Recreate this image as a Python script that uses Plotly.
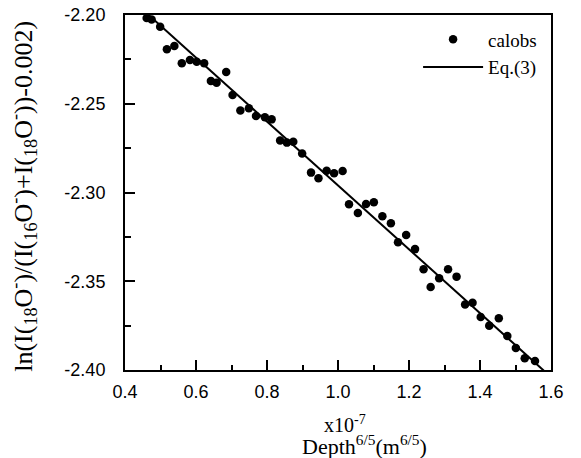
import plotly.graph_objects as go

# measured points (depth^6/5 in units of 1e-7 m^6/5)
depth = [0.461, 0.475, 0.499, 0.518, 0.539, 0.560, 0.583, 0.602, 0.623, 0.642,
         0.658, 0.685, 0.703, 0.725, 0.749, 0.769, 0.794, 0.813, 0.837, 0.856,
         0.874, 0.899, 0.924, 0.945, 0.968, 0.989, 1.013, 1.031, 1.056, 1.079,
         1.101, 1.125, 1.149, 1.169, 1.192, 1.217, 1.241, 1.261, 1.285, 1.310,
         1.334, 1.358, 1.379, 1.402, 1.426, 1.453, 1.477, 1.501, 1.526, 1.555]
ln_ratio = [-2.2017, -2.2025, -2.2066, -2.2193, -2.2175, -2.2272, -2.2254, -2.2263, -2.2272, -2.2372,
            -2.2381, -2.2321, -2.2451, -2.2538, -2.2526, -2.2569, -2.2576, -2.2588, -2.2707, -2.2719,
            -2.2714, -2.2780, -2.2888, -2.2920, -2.2877, -2.2892, -2.2879, -2.3066, -2.3115, -2.3065,
            -2.3055, -2.3134, -2.3173, -2.3280, -2.3240, -2.3319, -2.3432, -2.3532, -2.3483, -2.3432,
            -2.3474, -2.3631, -2.3621, -2.3701, -2.3750, -2.3708, -2.3808, -2.3876, -2.3934, -2.3949]

# Eq.(3) fit line
eq_x = [0.40, 1.60]
eq_y = [-2.188, -2.404]

serif = "Liberation Serif, Times New Roman, serif"
sans = "Liberation Sans, Arial, sans-serif"

fig = go.Figure()
fig.add_trace(go.Scatter(x=depth, y=ln_ratio, mode="markers", name="calobs",
                         marker=dict(color="black", size=8.5)))
fig.add_trace(go.Scatter(x=eq_x, y=eq_y, mode="lines", name="Eq.(3)",
                         line=dict(color="black", width=2)))

axis_common = dict(showgrid=False, zeroline=False, showline=True, linecolor="black",
                   linewidth=2, mirror=True, ticks="inside", tickcolor="black",
                   tickwidth=1.5, ticklen=10, automargin=False,
                   tickfont=dict(family=sans, size=18, color="black"))

fig.update_xaxes(range=[0.4, 1.6], tickvals=[0.4, 0.6, 0.8, 1.0, 1.2, 1.4, 1.6],
                 ticktext=["0.4", "0.6", "0.8", "1.0", "1.2", "1.4", "1.6"],
                 minor=dict(dtick=0.1, ticks="inside", ticklen=5, tickcolor="black", tickwidth=1.5),
                 ticklabelstandoff=4, **axis_common)
fig.update_yaxes(range=[-2.40, -2.20], tickvals=[-2.40, -2.35, -2.30, -2.25, -2.20],
                 ticktext=["-2.40", "-2.35", "-2.30", "-2.25", "-2.20"],
                 minor=dict(dtick=0.025, ticks="inside", ticklen=6, tickcolor="black", tickwidth=1.5),
                 ticklabelstandoff=14, **axis_common)

fig.add_annotation(text="ln(I(<sub>18</sub>O<sup>-</sup>)/(I(<sub>16</sub>O<sup>-</sup>)+I(<sub>18</sub>O<sup>-</sup>))-0.002)",
                   xref="paper", yref="paper", x=-0.24, y=0.49, textangle=-90,
                   showarrow=False, xanchor="center", yanchor="middle",
                   font=dict(family=serif, size=26, color="black"))
fig.add_annotation(text="x10<sup>-7</sup>", xref="paper", yref="paper",
                   x=0.517, y=-0.152, showarrow=False, xanchor="center", yanchor="middle",
                   font=dict(family=serif, size=20, color="black"))
fig.add_annotation(text="Depth<sup>6/5</sup>(m<sup>6/5</sup>)", xref="paper", yref="paper",
                   x=0.563, y=-0.21, showarrow=False, xanchor="center", yanchor="middle",
                   font=dict(family=serif, size=22, color="black"))

fig.update_layout(width=581, height=458, margin=dict(l=125, r=30, t=15, b=88),
                  plot_bgcolor="white", paper_bgcolor="white",
                  legend=dict(x=0.688, y=0.985, xanchor="left", yanchor="top",
                              itemwidth=60,
                              bgcolor="rgba(0,0,0,0)", tracegroupgap=0,
                              font=dict(family=serif, size=19, color="black")),
                  showlegend=True)

# drop the default body margin so the figure fills the window
fig.write_html("out.html", config={"displayModeBar": False},
               post_script="document.body.style.margin='0';")
